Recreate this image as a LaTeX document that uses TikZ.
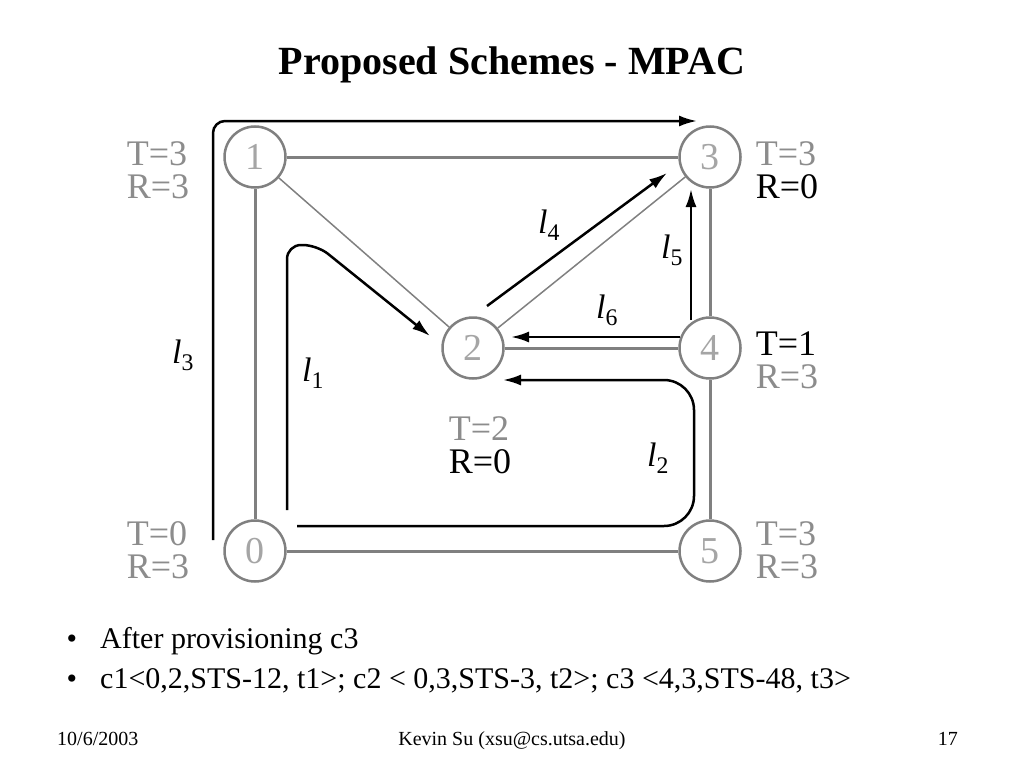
\documentclass[tikz,border=0pt]{standalone}
\usepackage{fontspec}
\setmainfont{Liberation Serif}
\usetikzlibrary{arrows.meta}
\definecolor{linkgray}{RGB}{128,128,128}
\definecolor{textgray}{RGB}{140,140,140}
\definecolor{numgray}{RGB}{165,165,165}

\begin{document}
\begin{tikzpicture}[x=1pt,y=-1pt,>={Latex[length=18pt,width=11pt]}]
 \tikzstyle{netnode} = [draw=linkgray,line width=2.5pt,fill=white,circle,minimum size=61pt,inner sep=0,text=numgray,font=\fontsize{38}{38}\selectfont]
 \tikzstyle{link} = [draw=linkgray,line width=3pt]
 \tikzstyle{thinlink} = [draw=linkgray,line width=1.5pt]
 \tikzstyle{lightpath} = [draw=black,line width=2.5pt,->]
 \tikzstyle{state} = [align=left,inner sep=0,font=\fontsize{36}{33}\selectfont]
 \tikzstyle{pathlabel} = [inner sep=0,font=\fontsize{34}{34}\selectfont]
 \tikzstyle{slidetext} = [anchor=base west,inner sep=0,font=\fontsize{30}{30}\selectfont]
 \tikzstyle{foot} = [inner sep=0,font=\fontsize{20}{20}\selectfont]

 \useasboundingbox (0,0) rectangle (1024,768);

% Title
 \node[font=\fontsize{40}{40}\selectfont\bfseries] (title) at (512,65) {Proposed Schemes - MPAC};

% Nodes
 \node[netnode] (n0) at (255,551) {0};
 \node[netnode] (n1) at (255,157) {1};
 \node[netnode] (n2) at (473,348) {2};
 \node[netnode] (n3) at (710,157) {3};
 \node[netnode] (n4) at (710,348) {4};
 \node[netnode] (n5) at (710,551) {5};

% Links
 \draw[link] (n1) -- (n3);
 \draw[link] (n1) -- (n0);
 \draw[link] (n0) -- (n5);
 \draw[link] (n5) -- (n4);
 \draw[link] (n4) -- (n3);
 \draw[link] (n2) -- (n4);
 \draw[thinlink] (n1) -- (n2);
 \draw[thinlink] (n2) -- (n3);

% T/R values
 \node[state] (s0) at (158,550) {\textcolor{textgray}{T=0}\\\textcolor{textgray}{R=3}};
 \node[state] (s1) at (158,170) {\textcolor{textgray}{T=3}\\\textcolor{textgray}{R=3}};
 \node[state] (s2) at (480,445) {\textcolor{textgray}{T=2}\\R=0};
 \node[state] (s3) at (787,170) {\textcolor{textgray}{T=3}\\R=0};
 \node[state] (s4) at (787,360) {T=1\\\textcolor{textgray}{R=3}};
 \node[state] (s5) at (787,550) {\textcolor{textgray}{T=3}\\\textcolor{textgray}{R=3}};

% Lightpaths
 \coordinate (l3s) at (213,540); \coordinate (l3e) at (697,121);
 \draw[lightpath,rounded corners=12pt] (l3s) |- (l3e);
 \coordinate (l1s) at (287,510); \coordinate (l1e) at (430,336);
 \draw[lightpath,rounded corners=14pt] (l1s) -- (287,245) -- (317,245) -- (l1e);
 \coordinate (l2s) at (297,526); \coordinate (l2e) at (503,380);
 \draw[lightpath,rounded corners=30pt] (l2s) -- (694,526) -- (694,380) -- (l2e);
 \coordinate (l4s) at (487,306); \coordinate (l4e) at (667,173);
 \draw[lightpath] (l4s) -- (l4e);
 \coordinate (l5s) at (691,320); \coordinate (l5e) at (691,189);
 \draw[lightpath] (l5s) -- (l5e);
 \coordinate (l6s) at (680,337); \coordinate (l6e) at (511,337);
 \draw[lightpath] (l6s) -- (l6e);

 \node[pathlabel] (p1) at (313,373) {\textit{l}\textsubscript{1}};
 \node[pathlabel] (p2) at (658,458) {\textit{l}\textsubscript{2}};
 \node[pathlabel] (p3) at (183,355) {\textit{l}\textsubscript{3}};
 \node[pathlabel] (p4) at (549,225) {\textit{l}\textsubscript{4}};
 \node[pathlabel] (p5) at (672,250) {\textit{l}\textsubscript{5}};
 \node[pathlabel] (p6) at (607,310) {\textit{l}\textsubscript{6}};

% Bullets
 \node[slidetext,anchor=base] (d1) at (72,648) {\textbullet};
 \node[slidetext] (b1) at (100,648) {After provisioning c3};
 \node[slidetext,anchor=base] (d2) at (72,688) {\textbullet};
 \node[slidetext] (b2) at (100,688) {c1<0,2,STS-12, t1>; c2 < 0,3,STS-3, t2>; c3 <4,3,STS-48, t3>};

% Footer
 \node[foot,anchor=base west] (date) at (57,745) {10/6/2003};
 \node[foot,anchor=base] (author) at (512,745) {Kevin Su (xsu@cs.utsa.edu)};
 \node[foot,anchor=base east] (page) at (958,745) {17};

\end{tikzpicture}
\end{document}
